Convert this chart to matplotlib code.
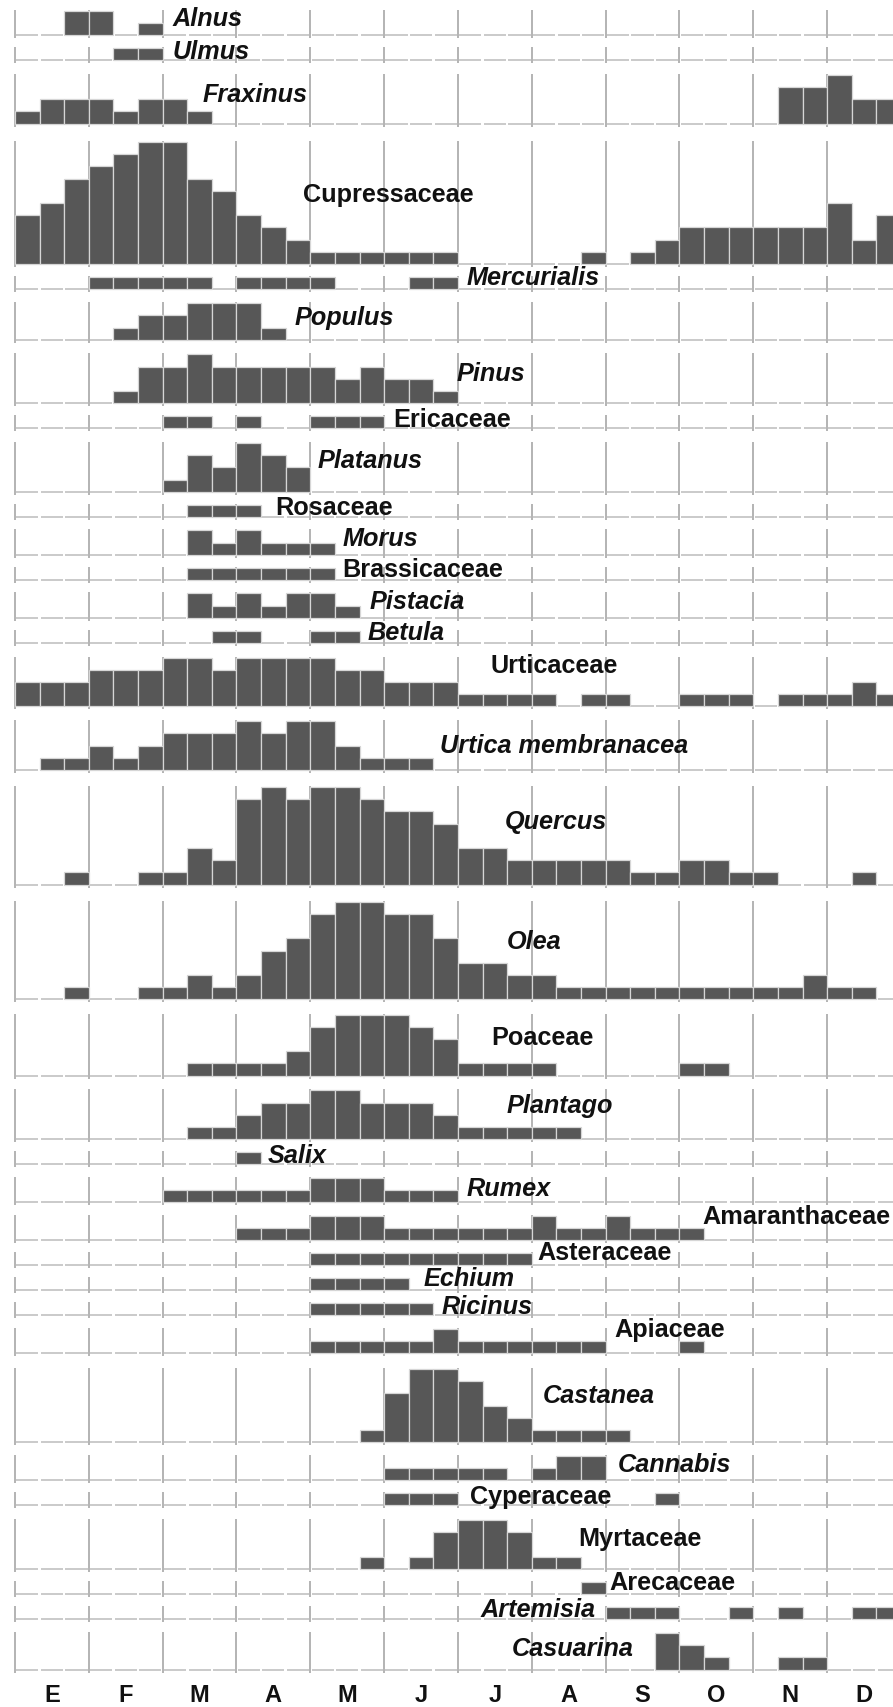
import matplotlib
matplotlib.use("Agg")
import matplotlib.pyplot as plt
import numpy as np

# ---------------- data: pollen classes per 10-day period (36 periods) ----------------
months = ["E", "F", "M", "A", "M", "J", "J", "A", "S", "O", "N", "D"]

def series(pairs):
    v = [0] * 36
    for i, val in pairs.items():
        v[i] = val
    return v

alnus = series({2: 2, 3: 2, 5: 1})
ulmus = series({4: 1, 5: 1})
fraxinus = series({0: 1, 1: 2, 2: 2, 3: 2, 4: 1, 5: 2, 6: 2, 7: 1,
                   31: 3, 32: 3, 33: 4, 34: 2, 35: 2})
cupressaceae = [4, 5, 7, 8, 9, 10, 10, 7, 6, 4, 3, 2,
                1, 1, 1, 1, 1, 1, 0, 0, 0, 0, 0, 1,
                0, 1, 2, 3, 3, 3, 3, 3, 3, 5, 2, 4]
mercurialis = series({3: 1, 4: 1, 5: 1, 6: 1, 7: 1, 9: 1, 10: 1, 11: 1, 12: 1, 16: 1, 17: 1})
populus = series({4: 1, 5: 2, 6: 2, 7: 3, 8: 3, 9: 3, 10: 1})
pinus = series({4: 1, 5: 3, 6: 3, 7: 4, 8: 3, 9: 3, 10: 3, 11: 3, 12: 3,
                13: 2, 14: 3, 15: 2, 16: 2, 17: 1})
ericaceae = series({6: 1, 7: 1, 9: 1, 12: 1, 13: 1, 14: 1})
platanus = series({6: 1, 7: 3, 8: 2, 9: 4, 10: 3, 11: 2})
rosaceae = series({7: 1, 8: 1, 9: 1})
morus = series({7: 2, 8: 1, 9: 2, 10: 1, 11: 1, 12: 1})
brassicaceae = series({7: 1, 8: 1, 9: 1, 10: 1, 11: 1, 12: 1})
pistacia = series({7: 2, 8: 1, 9: 2, 10: 1, 11: 2, 12: 2, 13: 1})
betula = series({8: 1, 9: 1, 12: 1, 13: 1})
urticaceae = [2, 2, 2, 3, 3, 3, 4, 4, 3, 4, 4, 4,
              4, 3, 3, 2, 2, 2, 1, 1, 1, 1, 0, 1,
              1, 0, 0, 1, 1, 1, 0, 1, 1, 1, 2, 1]
urtica_membranacea = series({1: 1, 2: 1, 3: 2, 4: 1, 5: 2, 6: 3, 7: 3, 8: 3, 9: 4,
                             10: 3, 11: 4, 12: 4, 13: 2, 14: 1, 15: 1, 16: 1})
quercus = series({2: 1, 5: 1, 6: 1, 7: 3, 8: 2, 9: 7, 10: 8, 11: 7, 12: 8, 13: 8,
                  14: 7, 15: 6, 16: 6, 17: 5, 18: 3, 19: 3, 20: 2, 21: 2, 22: 2,
                  23: 2, 24: 2, 25: 1, 26: 1, 27: 2, 28: 2, 29: 1, 30: 1, 34: 1})
olea = series({2: 1, 5: 1, 6: 1, 7: 2, 8: 1, 9: 2, 10: 4, 11: 5, 12: 7, 13: 8,
               14: 8, 15: 7, 16: 7, 17: 5, 18: 3, 19: 3, 20: 2, 21: 2,
               22: 1, 23: 1, 24: 1, 25: 1, 26: 1, 27: 1, 28: 1, 29: 1, 30: 1, 31: 1,
               32: 2, 33: 1, 34: 1})
poaceae = series({7: 1, 8: 1, 9: 1, 10: 1, 11: 2, 12: 4, 13: 5, 14: 5, 15: 5,
                  16: 4, 17: 3, 18: 1, 19: 1, 20: 1, 21: 1, 27: 1, 28: 1})
plantago = series({7: 1, 8: 1, 9: 2, 10: 3, 11: 3, 12: 4, 13: 4, 14: 3, 15: 3,
                   16: 3, 17: 2, 18: 1, 19: 1, 20: 1, 21: 1, 22: 1})
salix = series({9: 1})
rumex = series({6: 1, 7: 1, 8: 1, 9: 1, 10: 1, 11: 1, 12: 2, 13: 2, 14: 2,
                15: 1, 16: 1, 17: 1})
amaranthaceae = series({9: 1, 10: 1, 11: 1, 12: 2, 13: 2, 14: 2, 15: 1, 16: 1, 17: 1,
                        18: 1, 19: 1, 20: 1, 21: 2, 22: 1, 23: 1, 24: 2, 25: 1,
                        26: 1, 27: 1})
asteraceae = series({12: 1, 13: 1, 14: 1, 15: 1, 16: 1, 17: 1, 18: 1, 19: 1, 20: 1})
echium = series({12: 1, 13: 1, 14: 1, 15: 1})
ricinus = series({12: 1, 13: 1, 14: 1, 15: 1, 16: 1})
apiaceae = series({12: 1, 13: 1, 14: 1, 15: 1, 16: 1, 17: 2, 18: 1, 19: 1, 20: 1,
                   21: 1, 22: 1, 23: 1, 27: 1})
castanea = series({14: 1, 15: 4, 16: 6, 17: 6, 18: 5, 19: 3, 20: 2,
                   21: 1, 22: 1, 23: 1, 24: 1})
cannabis = series({15: 1, 16: 1, 17: 1, 18: 1, 19: 1, 21: 1, 22: 2, 23: 2})
cyperaceae = series({15: 1, 16: 1, 17: 1, 26: 1})
myrtaceae = series({14: 1, 16: 1, 17: 3, 18: 4, 19: 4, 20: 3, 21: 1, 22: 1})
arecaceae = series({23: 1})
artemisia = series({24: 1, 25: 1, 26: 1, 29: 1, 31: 1, 34: 1, 35: 1})
casuarina = series({26: 3, 27: 2, 28: 1, 31: 1, 32: 1})

# (name, values, italic)
rows = [
    ("Alnus", alnus, True),
    ("Ulmus", ulmus, True),
    ("Fraxinus", fraxinus, True),
    ("Cupressaceae", cupressaceae, False),
    ("Mercurialis", mercurialis, True),
    ("Populus", populus, True),
    ("Pinus", pinus, True),
    ("Ericaceae", ericaceae, False),
    ("Platanus", platanus, True),
    ("Rosaceae", rosaceae, False),
    ("Morus", morus, True),
    ("Brassicaceae", brassicaceae, False),
    ("Pistacia", pistacia, True),
    ("Betula", betula, True),
    ("Urticaceae", urticaceae, False),
    ("Urtica membranacea", urtica_membranacea, True),
    ("Quercus", quercus, True),
    ("Olea", olea, True),
    ("Poaceae", poaceae, False),
    ("Plantago", plantago, True),
    ("Salix", salix, True),
    ("Rumex", rumex, True),
    ("Amaranthaceae", amaranthaceae, False),
    ("Asteraceae", asteraceae, False),
    ("Echium", echium, True),
    ("Ricinus", ricinus, True),
    ("Apiaceae", apiaceae, False),
    ("Castanea", castanea, True),
    ("Cannabis", cannabis, True),
    ("Cyperaceae", cyperaceae, False),
    ("Myrtaceae", myrtaceae, False),
    ("Arecaceae", arecaceae, False),
    ("Artemisia", artemisia, True),
    ("Casuarina", casuarina, True),
]

# ---------------- layout (label placement, in period / class units) ----------------
label_x = [6.42, 6.42, 7.64, 11.7, 18.33, 11.38, 17.96, 15.36, 12.31, 10.56,
           13.29, 13.29, 14.42, 14.34, 19.34, 17.25, 19.91, 19.99, 19.34, 19.99,
           10.28, 18.33, 27.92, 21.21, 16.62, 17.35, 24.34, 21.45, 24.5, 18.49,
           22.88, 24.14, 18.9, 20.2]
label_dy = [1.4, 0.75, 2.4, 5.7, 1.0, 1.9, 2.5, 0.8, 2.6, 0.8,
            1.4, 0.9, 1.4, 0.9, 3.4, 2.0, 5.2, 4.8, 3.2, 2.8,
            0.75, 1.15, 2.0, 1.05, 1.0, 0.8, 2.0, 3.9, 1.3, 0.8,
            2.5, 1.0, 0.8, 1.8]

W, H = 893, 1708
U = 12.2              # pixels per class unit
PERIOD = 24.61        # pixels per 10-day period
LEFT = 15.0           # pixel of 1 January

fig = plt.figure(figsize=(W / 100, H / 100), dpi=100)
ax = fig.add_axes([0, 0, 1, 1])
ax.set_xlim(-LEFT / PERIOD, (W - LEFT) / PERIOD)
ax.set_ylim(0, H / U)
ax.axis("off")

bar_color = "#575757"
grid_color = "#b3b3b3"
base_color = "#cacaca"
font = "Liberation Sans"

p = 36.0
for i, (name, vals, italic) in enumerate(rows):
    m = max(vals)
    if i > 0:
        p += m * U + 12.3 + 0.6 * m
    base = (H - p) / U

    # baseline segments per 10-day period
    for k in range(36):
        ax.plot([k + 0.05, k + 0.95], [base, base], color=base_color, lw=1.4,
                solid_capstyle="butt", zorder=1)
    # month boundaries
    for k in range(0, 36, 3):
        ax.plot([k, k], [base - 3 / U, base + m + 1 / U], color=grid_color, lw=1.4,
                solid_capstyle="butt", zorder=1)

    x = np.arange(36) + 0.5
    v = np.array(vals, dtype=float)
    nz = v > 0
    ax.bar(x[nz], v[nz], bottom=base, width=1.0, color=bar_color,
           edgecolor="#d6d6d6", linewidth=0.9, zorder=2)

    ax.text(label_x[i], base + label_dy[i], name, fontsize=18.2, fontweight="bold",
            fontstyle="italic" if italic else "normal", family=font,
            ha="left", va="center", color="#111111", zorder=3)

for k, mname in enumerate(months):
    ax.text(3 * k + 1.5, (H - 1696) / U, mname, fontsize=17, fontweight="bold",
            family=font, ha="center", va="center", color="#111111")

fig.savefig("out.png", dpi=100, facecolor="white")
